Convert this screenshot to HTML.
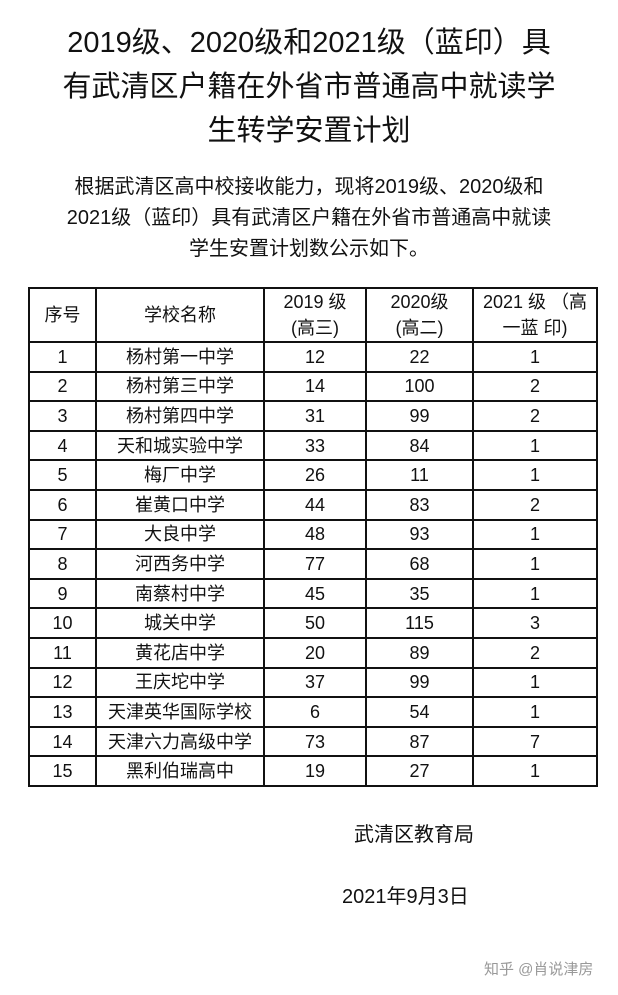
<!DOCTYPE html>
<html><head><meta charset="utf-8"><style>
body{margin:0;width:618px;height:995px;background:#fff;position:relative;font-family:"Liberation Sans","Noto Sans CJK SC",sans-serif;color:#111;overflow:hidden}
.t{position:absolute;left:0;width:618px;text-align:center}
table{position:absolute;left:28px;top:287px;border-collapse:collapse;font-size:18px}
td{border:2px solid #111;text-align:center;padding:0;height:27.6px;line-height:20px}
</style></head><body>
<div class="t" style="top:21px;font-size:29px;line-height:44px">2019级、2020级和2021级（蓝印）具<br>有武清区户籍在外省市普通高中就读学<br>生转学安置计划</div>
<div class="t" style="top:172px;font-size:20px;line-height:31px">根据武清区高中校接收能力，现将2019级、2020级和<br>2021级（蓝印）具有武清区户籍在外省市普通高中就读<br>学生安置计划数公示如下。</div>
<table>
<tr><td style="width:65px;height:52px">序号</td><td style="width:166px">学校名称</td><td style="width:100px;line-height:26px">2019 级<br>(高三)</td><td style="width:105px;line-height:26px">2020级<br>(高二)</td><td style="width:122px;line-height:26px">2021 级 （高<br>一蓝 印)</td></tr>
<tr><td>1</td><td>杨村第一中学</td><td>12</td><td>22</td><td>1</td></tr>
<tr><td>2</td><td>杨村第三中学</td><td>14</td><td>100</td><td>2</td></tr>
<tr><td>3</td><td>杨村第四中学</td><td>31</td><td>99</td><td>2</td></tr>
<tr><td>4</td><td>天和城实验中学</td><td>33</td><td>84</td><td>1</td></tr>
<tr><td>5</td><td>梅厂中学</td><td>26</td><td>11</td><td>1</td></tr>
<tr><td>6</td><td>崔黄口中学</td><td>44</td><td>83</td><td>2</td></tr>
<tr><td>7</td><td>大良中学</td><td>48</td><td>93</td><td>1</td></tr>
<tr><td>8</td><td>河西务中学</td><td>77</td><td>68</td><td>1</td></tr>
<tr><td>9</td><td>南蔡村中学</td><td>45</td><td>35</td><td>1</td></tr>
<tr><td>10</td><td>城关中学</td><td>50</td><td>115</td><td>3</td></tr>
<tr><td>11</td><td>黄花店中学</td><td>20</td><td>89</td><td>2</td></tr>
<tr><td>12</td><td>王庆坨中学</td><td>37</td><td>99</td><td>1</td></tr>
<tr><td>13</td><td>天津英华国际学校</td><td>6</td><td>54</td><td>1</td></tr>
<tr><td>14</td><td>天津六力高级中学</td><td>73</td><td>87</td><td>7</td></tr>
<tr><td>15</td><td>黑利伯瑞高中</td><td>19</td><td>27</td><td>1</td></tr>
</table>
<div style="position:absolute;left:354px;top:818px;font-size:20px">武清区教育局</div>
<div style="position:absolute;left:342px;top:880px;font-size:20px">2021年9月3日</div>
<div style="position:absolute;left:484px;top:958px;font-size:15px;color:#999">知乎 @肖说津房</div>
</body></html>
